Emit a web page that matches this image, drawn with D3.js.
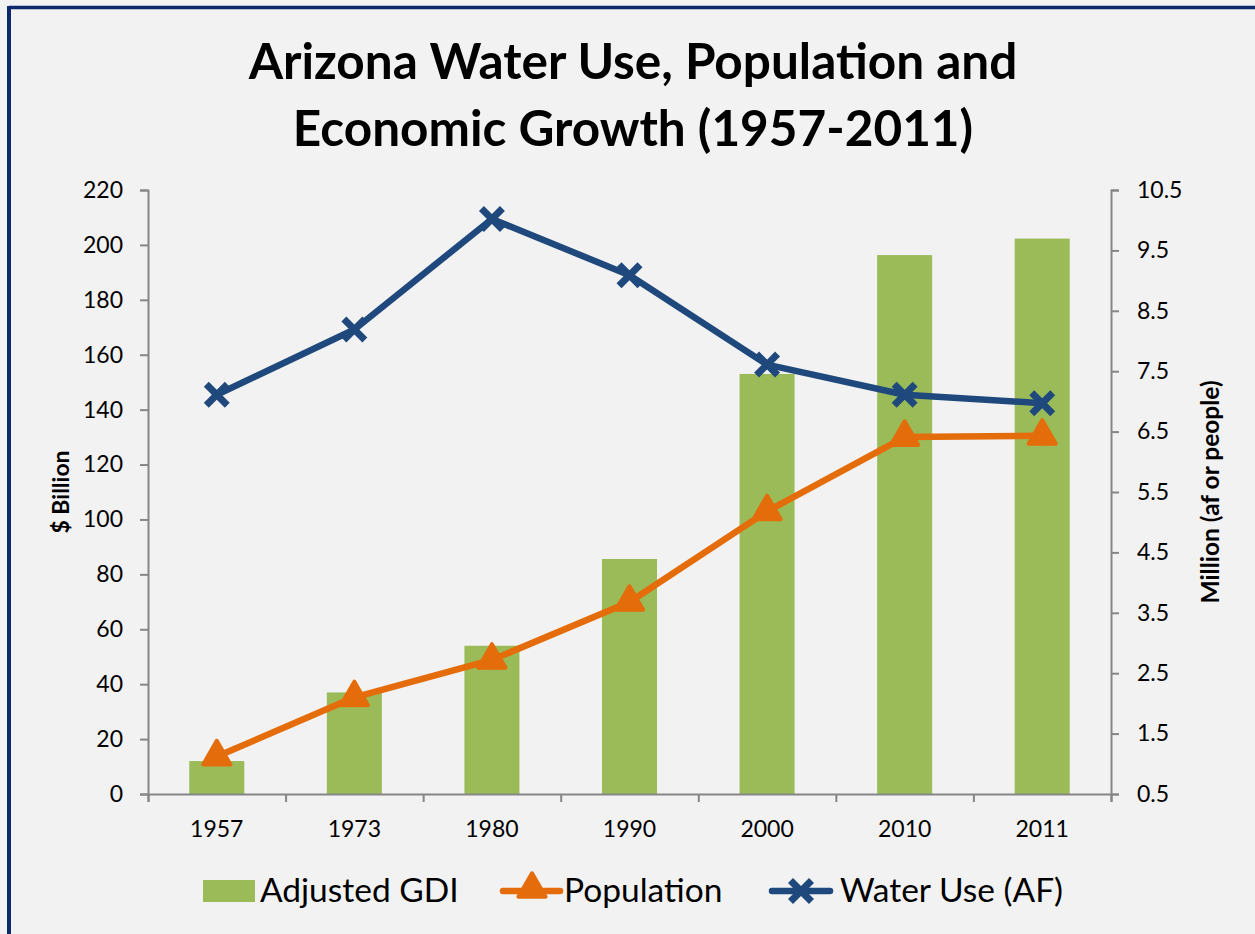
<!DOCTYPE html>
<html>
<head>
<meta charset="utf-8">
<script src="https://cdn.jsdelivr.net/npm/d3@7"></script>
<style>
html,body{margin:0;padding:0;background:#f2f2f2;}
svg{display:block;}
text{font-family:Lato,"Open Sans",sans-serif;fill:#000;}
</style>
</head>
<body>
<svg id="chart" width="1255" height="934"></svg>
<script>
const years = ["1957","1973","1980","1990","2000","2010","2011"];
const gdi = [12.0, 37.0, 54.0, 85.6, 153.0, 196.3, 202.3];
const population = [1.12, 2.1, 2.72, 3.68, 5.18, 6.41, 6.43];
const waterUse = [7.11, 8.19, 10.02, 9.09, 7.61, 7.11, 6.97];
const leftTicks = [0,20,40,60,80,100,120,140,160,180,200,220];
const rightTicks = [0.5,1.5,2.5,3.5,4.5,5.5,6.5,7.5,8.5,9.5,10.5];
const titleLines = ["Arizona Water Use, Population and","Economic Growth (1957-2011)"];
const legendLabels = ["Adjusted GDI","Population","Water Use (AF)"];

const W = 1255, H = 934;
const m = {left:148, right:1111, top:190, bottom:794};
const svg = d3.select("#chart");

svg.append("rect").attr("width",W).attr("height",H).attr("fill","#f2f2f2");
// border (top & left visible)
svg.append("line").attr("x1",9).attr("x2",W).attr("y1",7.5).attr("y2",7.5).attr("stroke","#0c2a6b").attr("stroke-width",3.5);
svg.append("line").attr("x1",9).attr("x2",9).attr("y1",6).attr("y2",H).attr("stroke","#0c2a6b").attr("stroke-width",4);

const x = d3.scaleBand().domain(years).range([m.left,m.right]).paddingInner(0.6).paddingOuter(0.3);
const yL = d3.scaleLinear().domain([0,220]).range([m.bottom,m.top]);
const yR = d3.scaleLinear().domain([0.5,10.5]).range([m.bottom,m.top]);
const cx = d => x(d) + x.bandwidth()/2;

// title
svg.append("g").selectAll("text").data(titleLines).join("text")
  .attr("x",633).attr("y",(d,i)=>79+i*67)
  .attr("text-anchor","middle").attr("font-size",49.5).attr("font-weight","bold")
  .text(d=>d);

// bars
svg.append("g").selectAll("rect").data(years).join("rect")
  .attr("x",d=>x(d)).attr("width",x.bandwidth())
  .attr("y",(d,i)=>yL(gdi[i])).attr("height",(d,i)=>yL(0)-yL(gdi[i]))
  .attr("fill","#9bbb59");

const axisColor = "#868686";
// left axis
const gL = svg.append("g").attr("transform",`translate(${m.left},0)`)
  .call(d3.axisLeft(yL).tickValues(leftTicks).tickSize(8).tickPadding(17).tickFormat(d3.format("d")));
// right axis
const gR = svg.append("g").attr("transform",`translate(${m.right},0)`)
  .call(d3.axisRight(yR).tickValues(rightTicks).tickSize(8).tickPadding(18).tickFormat(d3.format(".1f")));
// bottom axis: ticks at band boundaries
const xb = d3.scaleLinear().domain([0,years.length]).range([m.left,m.right]);
const gB = svg.append("g").attr("transform",`translate(0,${m.bottom})`)
  .call(d3.axisBottom(xb).tickValues(d3.range(0,years.length+1)).tickSize(8).tickFormat(""));
svg.append("g").selectAll("text").data(years).join("text")
  .attr("x",d=>cx(d)).attr("y",837).attr("text-anchor","middle").attr("font-size",23).text(d=>d);

[gL,gR,gB].forEach(g=>{
  g.select(".domain").attr("stroke",axisColor).attr("stroke-width",2);
  g.selectAll(".tick line").attr("stroke",axisColor).attr("stroke-width",2);
  g.selectAll(".tick text").attr("font-size",23).attr("fill","#000").attr("font-family","Lato");
});

// axis titles
svg.append("text").attr("transform","translate(69,492) rotate(-90)")
  .attr("text-anchor","middle").attr("font-size",23).attr("font-weight","bold").text("$ Billion");
svg.append("text").attr("transform","translate(1219,492) rotate(-90)")
  .attr("text-anchor","middle").attr("font-size",24.5).attr("font-weight","bold").text("Million (af or people)");

// population line
const orange = "#e46c0a", blue = "#1f497d";
const popLine = d3.line().x((d,i)=>cx(years[i])).y(d=>yR(d));
svg.append("path").datum(population).attr("d",popLine)
  .attr("fill","none").attr("stroke",orange).attr("stroke-width",6.5).attr("stroke-linejoin","round");
const tri = d3.symbol().type(d3.symbolTriangle).size(320);
svg.append("g").selectAll("path").data(population).join("path")
  .attr("d",tri).attr("transform",(d,i)=>`translate(${cx(years[i])},${yR(d)})`)
  .attr("fill",orange).attr("stroke",orange).attr("stroke-width",4).attr("stroke-linejoin","round");

// water use line
const wLine = d3.line().x((d,i)=>cx(years[i])).y(d=>yR(d));
svg.append("path").datum(waterUse).attr("d",wLine)
  .attr("fill","none").attr("stroke",blue).attr("stroke-width",6.5).attr("stroke-linejoin","round");
function xMark(g){
  g.append("line").attr("x1",-10.5).attr("y1",-10.5).attr("x2",10.5).attr("y2",10.5);
  g.append("line").attr("x1",-10.5).attr("y1",10.5).attr("x2",10.5).attr("y2",-10.5);
}
svg.append("g").selectAll("g").data(waterUse).join("g")
  .attr("transform",(d,i)=>`translate(${cx(years[i])},${yR(d)})`)
  .attr("stroke",blue).attr("stroke-width",7)
  .each(function(){xMark(d3.select(this));});

// legend
const lg = svg.append("g");
const lfs = 33.5;
lg.append("rect").attr("x",203).attr("y",880).attr("width",52).attr("height",22).attr("fill","#9bbb59");
lg.append("text").attr("x",260).attr("y",902).attr("font-size",lfs).text(legendLabels[0]);
lg.append("line").attr("x1",503).attr("x2",560).attr("y1",891).attr("y2",891).attr("stroke",orange).attr("stroke-width",6.5).attr("stroke-linecap","round");
lg.append("path").attr("d",tri).attr("transform","translate(532,889)").attr("fill",orange).attr("stroke",orange).attr("stroke-width",4).attr("stroke-linejoin","round");
lg.append("text").attr("x",564).attr("y",902).attr("font-size",lfs).text(legendLabels[1]);
lg.append("line").attr("x1",772).attr("x2",830).attr("y1",891).attr("y2",891).attr("stroke",blue).attr("stroke-width",6.5).attr("stroke-linecap","round");
const lx = lg.append("g").attr("transform","translate(801,891)").attr("stroke",blue).attr("stroke-width",7);
xMark(lx);
lg.append("text").attr("x",840).attr("y",902).attr("font-size",lfs).text(legendLabels[2]);
</script>
</body>
</html>
